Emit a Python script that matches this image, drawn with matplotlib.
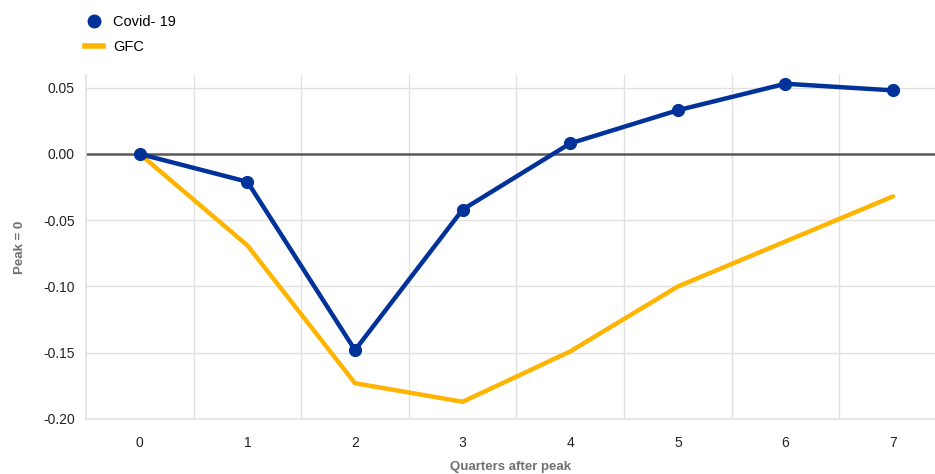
import numpy as np
import matplotlib.pyplot as plt
from matplotlib.lines import Line2D

plt.rcParams['font.family'] = ['Liberation Sans', 'DejaVu Sans']
plt.rcParams['font.size'] = 10

quarters = [0, 1, 2, 3, 4, 5, 6, 7]
covid = [0.0, -0.021, -0.148, -0.042, 0.008, 0.033, 0.053, 0.048]
gfc = [0.0, -0.069, -0.173, -0.187, -0.149, -0.100, -0.066, -0.032]

blue = '#003299'
yellow = '#FFB400'
grid_c = '#e1e1e1'

fig = plt.figure(figsize=(9.35, 4.74), dpi=100)
ax = fig.add_axes([86/935, 55/474, 1 - 86/935, (419 - 75)/474])

ax.plot(quarters, gfc, color=yellow, lw=3.2, solid_capstyle='round', zorder=3)
ax.plot(quarters, covid, color=blue, lw=3.2, marker='o', ms=8.5,
        solid_capstyle='round', zorder=4)
ax.axhline(0, color='#595959', lw=1.8, zorder=2)

ax.set_xlim(-0.5, 7.39)
ax.set_ylim(-0.2, 0.0596)
ax.set_xticks(quarters)
ax.set_yticks([-0.20, -0.15, -0.10, -0.05, 0.00, 0.05])
ax.set_yticklabels(['{:.2f}'.format(v) for v in [-0.20, -0.15, -0.10, -0.05, 0.00, 0.05]])

for v in np.arange(0.5, 7, 1.0):
    ax.axvline(v, color=grid_c, lw=1, zorder=1)
for v in [-0.15, -0.10, -0.05, 0.05]:
    ax.axhline(v, color=grid_c, lw=1, zorder=1)

for s in ['top', 'right']:
    ax.spines[s].set_visible(False)
for s in ['left', 'bottom']:
    ax.spines[s].set_color(grid_c)
    ax.spines[s].set_linewidth(1.2)
ax.tick_params(length=0, pad=8, labelsize=10, colors='#222222')
ax.tick_params(axis='x', pad=12)

ax.set_xlabel('Quarters after peak', fontsize=9.5, fontweight='bold', color='#707070', labelpad=8)
ax.set_ylabel('Peak = 0', fontsize=9.5, fontweight='bold', color='#707070', labelpad=12)

handles = [Line2D([], [], color=blue, marker='o', ls='none', ms=9),
           Line2D([], [], color=yellow, lw=4)]
fig.legend(handles, ['Covid- 19', 'GFC'], loc='upper left',
           bbox_to_anchor=(72/935, 1 - 2/474), frameon=False, fontsize=10.5,
           handlelength=1.2, handletextpad=0.7, labelspacing=0.75)

fig.savefig('out.png', dpi=100)
